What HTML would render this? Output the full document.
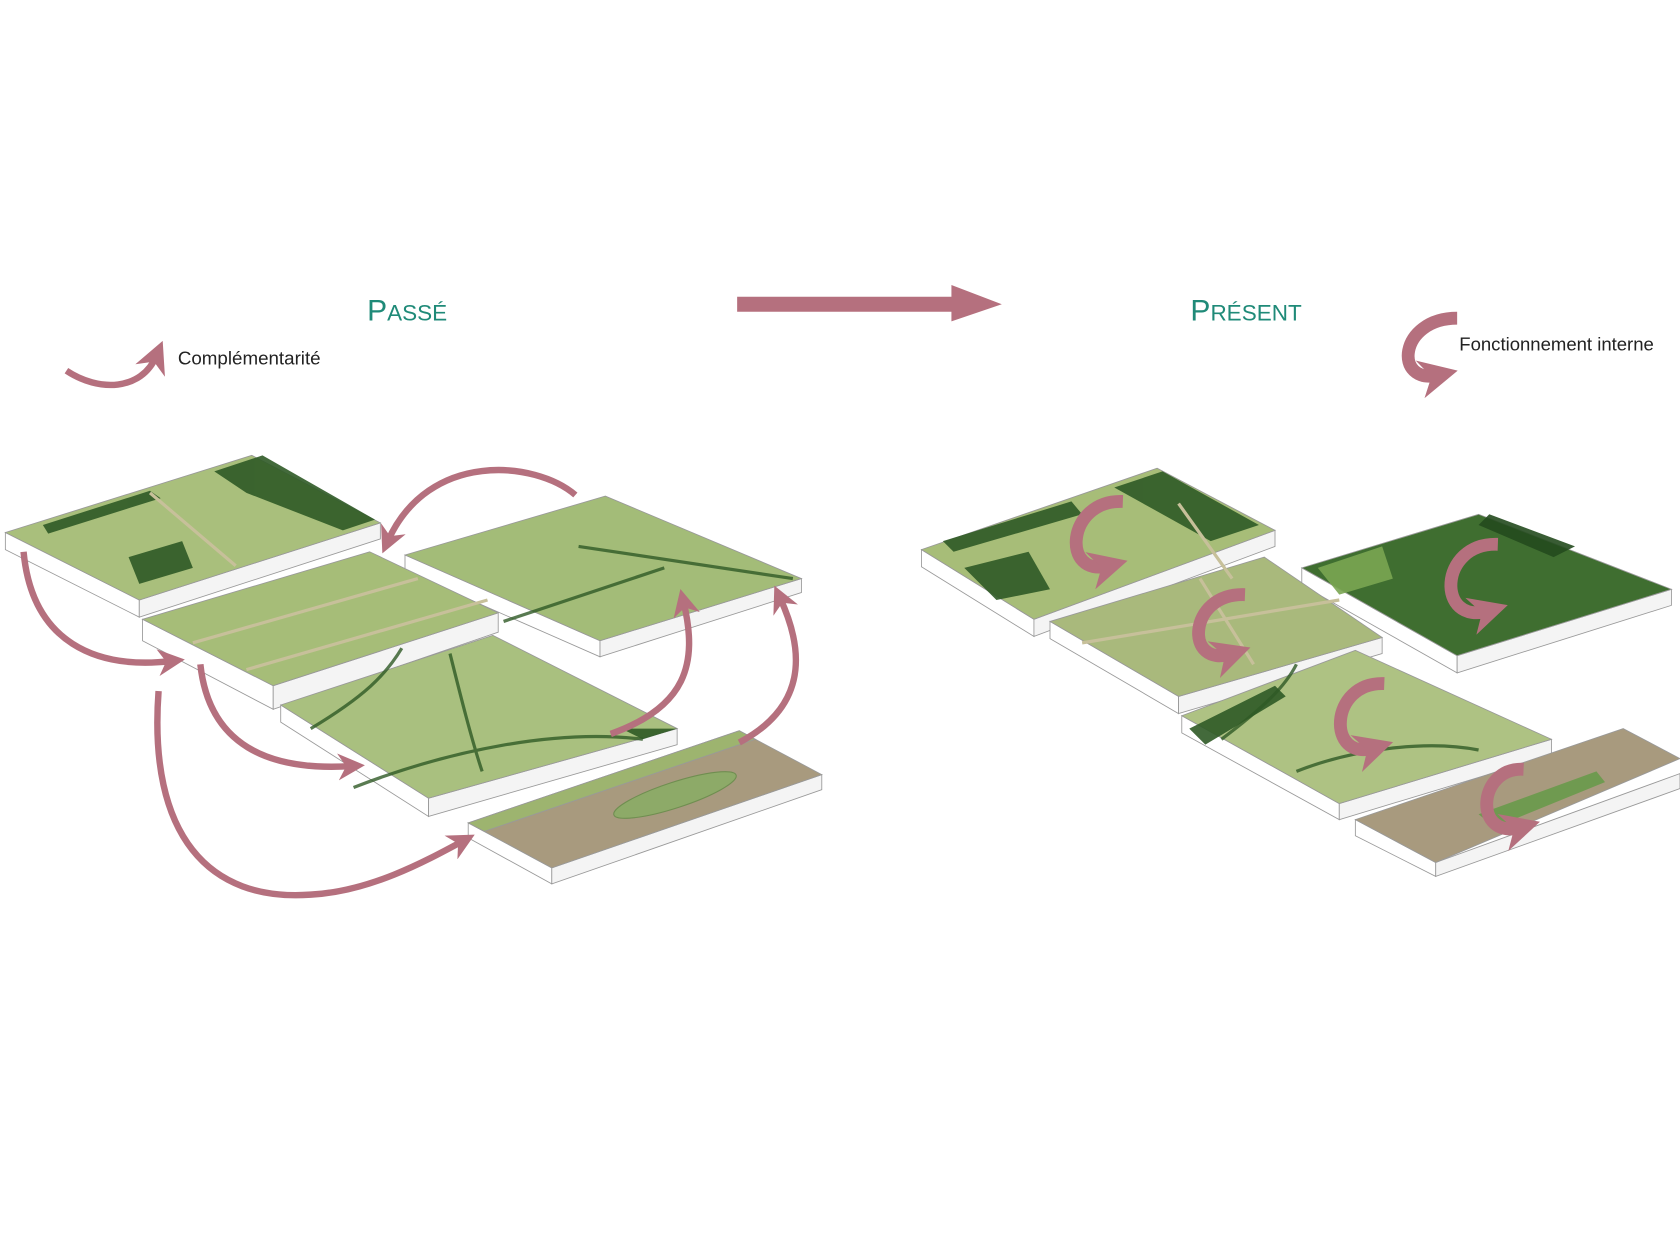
<!DOCTYPE html>
<html><head><meta charset="utf-8"><style>
html,body{margin:0;padding:0;background:#fff;}
svg{display:block;}
</style></head><body>
<svg width="1680" height="1260" viewBox="0 0 1568 1176" xmlns="http://www.w3.org/2000/svg">
<defs>
<marker id="ah" viewBox="0 0 10 10" refX="5" refY="5" markerWidth="4.2" markerHeight="4.2" orient="auto" markerUnits="strokeWidth">
<path d="M0,0 L10,5 L0,10 L3,5 z" fill="#b5707e"/></marker>
<marker id="ah2" viewBox="0 0 10 10" refX="5" refY="5" markerWidth="3" markerHeight="3" orient="auto" markerUnits="strokeWidth">
<path d="M0,0 L10,5 L0,10 L3,5 z" fill="#b5707e"/></marker>
<marker id="ah3" viewBox="0 0 10 10" refX="5" refY="5" markerWidth="5" markerHeight="5" orient="auto" markerUnits="strokeWidth">
<path d="M0,0 L10,5 L0,10 L3,5 z" fill="#b5707e"/></marker>
</defs>
<rect width="1568" height="1176" fill="#fff"/>

<text x="380" y="299" text-anchor="middle" font-family="Liberation Sans, sans-serif" font-size="28" fill="#1f8a78">P<tspan font-size="21">ASSÉ</tspan></text>
<text x="1163" y="299" text-anchor="middle" font-family="Liberation Sans, sans-serif" font-size="28" fill="#1f8a78">P<tspan font-size="21">RÉSENT</tspan></text>
<polygon points="688,277 888,277 888,266 935,284 888,300 888,291 688,291" fill="#b5707e"/>

<path d="M62,346 C92,366 132,365 146,332" fill="none" stroke="#b5707e" stroke-width="6" marker-end="url(#ah3)"/>
<text x="166" y="340" font-family="Liberation Sans, sans-serif" font-size="17.5" fill="#222">Complémentarité</text>
<path d="M1360,297 C1305,297 1300,360 1343,350" fill="none" stroke="#b5707e" stroke-width="12" marker-end="url(#ah2)"/>
<text x="1362" y="327" font-family="Liberation Sans, sans-serif" font-size="17.3" fill="#222">Fonctionnement interne</text>

<g stroke="#999" stroke-width="0.8">
<polygon points="5,497 130,560 130,576 5,513" fill="#fff"/><polygon points="130,560 355,488 355,503 130,576" fill="#f4f4f4"/>
<polygon points="5,497 235,425 355,488 130,560" fill="#a9bf7c"/>
<polygon points="378,518 560,598 560,613 378,533" fill="#fff"/><polygon points="560,598 748,540 748,553 560,613" fill="#f4f4f4"/>
<polygon points="378,518 565,463 748,540 560,598" fill="#a3bc78"/>
<polygon points="133,578 255,640 255,662 133,598" fill="#fff"/><polygon points="255,640 465,572 465,590 255,662" fill="#f4f4f4"/>
<polygon points="133,578 345,515 465,572 255,640" fill="#a6bd78"/>
<polygon points="262,658 400,745 400,762 262,674" fill="#fff"/><polygon points="400,745 632,680 632,695 400,762" fill="#f4f4f4"/>
<polygon points="262,658 460,593 632,680 400,745" fill="#a9c07f"/>
<polygon points="437,768 515,810 515,825 437,782" fill="#fff"/><polygon points="515,810 767,723 767,737 515,825" fill="#f4f4f4"/>
<polygon points="437,768 690,682 767,723 515,810" fill="#a89a7e"/>
<polygon points="437,768 690,682 705,690 452,776" fill="#9db46f"/>

<polygon points="860,513 965,578 965,594 860,529" fill="#fff"/><polygon points="965,578 1190,495 1190,510 965,594" fill="#f4f4f4"/>
<polygon points="860,513 1080,437 1190,495 965,578" fill="#a7bd78"/>
<polygon points="1215,530 1360,612 1360,628 1215,546" fill="#fff"/><polygon points="1360,612 1560,550 1560,565 1360,628" fill="#f4f4f4"/>
<polygon points="1215,530 1380,480 1560,550 1360,612" fill="#3f6e30"/>
<polygon points="980,580 1100,650 1100,666 980,596" fill="#fff"/><polygon points="1100,650 1290,595 1290,610 1100,666" fill="#f4f4f4"/>
<polygon points="980,580 1180,520 1290,595 1100,650" fill="#a9b97c"/>
<polygon points="1103,668 1250,750 1250,765 1103,684" fill="#fff"/><polygon points="1250,750 1448,690 1448,705 1250,765" fill="#f4f4f4"/>
<polygon points="1103,668 1265,607 1448,690 1250,750" fill="#aec283"/>
<polygon points="1265,765 1340,805 1340,818 1265,780" fill="#fff"/><polygon points="1340,805 1568,722 1568,736 1340,818" fill="#f4f4f4"/>
<polygon points="1265,765 1515,680 1568,708 1340,805" fill="#a89a7e"/>
</g>

<g fill="#2f5a26" opacity="0.9">
<polygon points="200,440 245,425 350,485 320,495 230,460"/>
<polygon points="40,490 140,458 150,465 45,498"/>
<polygon points="120,520 170,505 180,530 130,545"/>
<polygon points="880,505 1000,468 1010,480 890,515"/>
<polygon points="1040,455 1085,440 1175,490 1130,505"/>
<polygon points="900,530 960,515 980,550 930,560"/>
<polygon points="1230,530 1290,510 1300,540 1250,555" fill="#7aa552"/>
<polygon points="1110,680 1190,640 1200,650 1125,695"/>
<polygon points="1390,480 1470,510 1450,520 1380,490" fill="#244a1e"/>
<polygon points="580,680 632,680 600,690" />
</g>
<g fill="none" stroke="#2f5a26" stroke-width="3" opacity="0.8">
<path d="M290,680 C340,650 360,630 375,605"/>
<path d="M420,610 C430,650 440,690 450,720"/>
<path d="M330,735 C420,700 520,680 600,690"/>
<path d="M470,580 L620,530"/>
<path d="M540,510 L740,540"/>
<path d="M1140,690 C1180,660 1200,640 1210,620"/>
<path d="M1210,720 C1260,700 1330,690 1380,700"/>
</g>
<g fill="none" stroke="#c7c09a" stroke-width="3">
<path d="M140,460 L220,528"/><path d="M180,600 L390,540"/><path d="M230,625 L455,560"/>
<path d="M1100,470 L1150,540"/><path d="M1010,600 L1250,560"/><path d="M1120,540 L1170,620"/>
</g>
<ellipse cx="630" cy="742" rx="60" ry="12" transform="rotate(-18 630 742)" fill="#8daa68" stroke="#6f8e50"/>
<polygon points="1380,760 1490,720 1498,730 1395,772" fill="#6f9a50"/>

<g fill="none" stroke="#b5707e" stroke-width="6" marker-end="url(#ah)">
<path d="M537,462 C500,430 400,420 362,505"/>
<path d="M22,515 C30,600 90,625 160,617"/>
<path d="M187,620 C195,695 250,720 328,715"/>
<path d="M148,645 C138,780 195,842 290,835 C345,832 395,805 432,785"/>
<path d="M570,685 C640,660 652,620 638,562"/>
<path d="M690,693 C752,660 752,610 728,558"/>
</g>

<g fill="none" stroke="#b5707e" stroke-width="12" marker-end="url(#ah2)">
<path d="M1048,468 C995,466 990,540 1035,528"/>
<path d="M1162,555 C1108,553 1105,625 1150,610"/>
<path d="M1292,638 C1240,636 1238,712 1283,698"/>
<path d="M1398,508 C1342,506 1340,585 1390,570"/>
<path d="M1422,718 C1378,716 1375,785 1420,772"/>
</g>
</svg>
</body></html>
